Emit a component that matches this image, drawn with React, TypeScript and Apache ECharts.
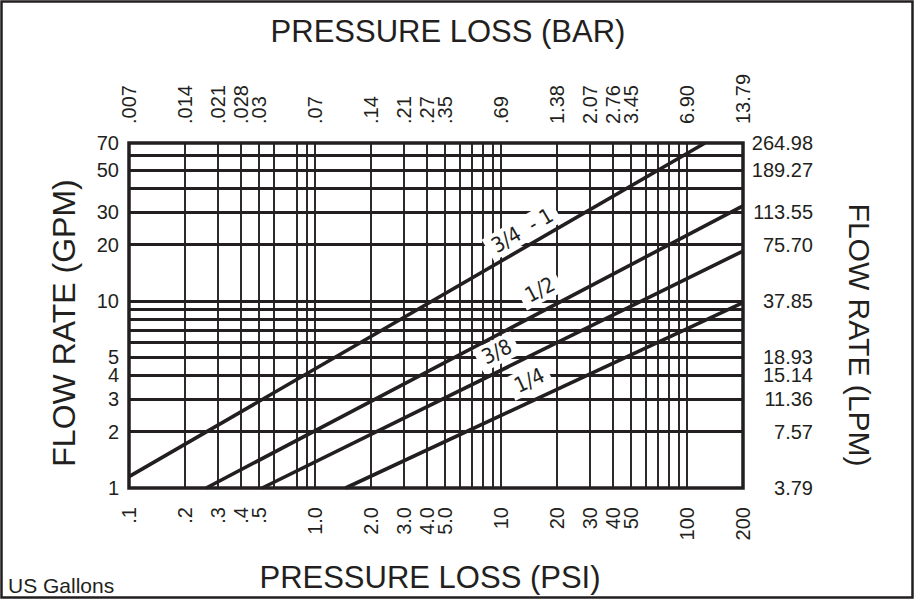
import React, { useEffect, useRef } from "react";
import * as echarts from "echarts";

// ---- data ----
const PSI_GRID = [0.2, 0.3, 0.4, 0.5, 0.6, 0.8, 0.9, 1, 2, 3, 4, 5, 6, 7, 8, 9, 10, 20, 30, 40, 50, 60, 70, 80, 90, 100];
const GPM_GRID = [2, 3, 4, 5, 6, 7, 8, 9, 10, 20, 30, 40, 50, 60];

const PSI_TICKS = [0.1, 0.2, 0.3, 0.4, 0.5, 1, 2, 3, 4, 5, 10, 20, 30, 40, 50, 100, 200];
const PSI_LABELS = [".1", ".2", ".3", ".4", ".5", "1.0", "2.0", "3.0", "4.0", "5.0", "10", "20", "30", "40", "50", "100", "200"];
const BAR_LABELS = [".007", ".014", ".021", ".028", ".03", ".07", ".14", ".21", ".27", ".35", ".69", "1.38", "2.07", "2.76", "3.45", "6.90", "13.79"];

const GPM_TICKS = [1, 2, 3, 4, 5, 10, 20, 30, 50, 70];
const GPM_LABELS = ["1", "2", "3", "4", "5", "10", "20", "30", "50", "70"];
const LPM_LABELS = ["3.79", "7.57", "11.36", "15.14", "18.93", "37.85", "75.70", "113.55", "189.27", "264.98"];

const SIZES = ["3/4  - 1", "1/2", "3/8", "1/4"];
const CURVE_34_1 = [[0.1, 1.15], [125, 70]];
const CURVE_12 = [[0.26, 1], [200, 32.3]];
const CURVE_38 = [[0.52, 1], [200, 18.5]];
const CURVE_14 = [[1.46, 1], [200, 9.8]];
const LABEL_AT = [[13.0, 23.8], [16.2, 11.5], [9.5, 5.35], [14.2, 3.76]];

const X_MIN = 0.1, X_MAX = 200, Y_MIN = 1, Y_MAX = 70;

// ---- layout / style ----
const INK = "#231f20";
const FONT = '"Liberation Sans", Arial, Helvetica, sans-serif';
const NARROW = '"Liberation Sans Narrow", "DejaVu Sans Condensed", "Roboto Condensed", sans-serif';
const G_LEFT = 129, G_TOP = 143, G_W = 614, G_H = 345;

const fmt = (ticks: number[], labels: string[]) => (v: number) => {
  const i = ticks.findIndex((t) => Math.abs(t - v) / t < 1e-6);
  return i >= 0 ? labels[i] : "";
};

const curves = [CURVE_34_1, CURVE_12, CURVE_38, CURVE_14];
const pxPerDecX = G_W / Math.log10(X_MAX / X_MIN);
const pxPerDecY = G_H / Math.log10(Y_MAX / Y_MIN);
const rotations = curves.map((c) => {
  const s = (Math.log10(c[1][1]) - Math.log10(c[0][1])) / (Math.log10(c[1][0]) - Math.log10(c[0][0]));
  return (Math.atan((s * pxPerDecY) / pxPerDecX) * 180) / Math.PI;
});

const axisLabelBase = { fontSize: 20, color: INK, fontFamily: FONT };
const hidden = { axisLine: { show: false }, axisTick: { show: false }, splitLine: { show: false }, minorTick: { show: false }, minorSplitLine: { show: false } };

const option: any = {
  animation: false,
  backgroundColor: "#fff",
  grid: {
    left: G_LEFT, top: G_TOP, width: G_W, height: G_H,
    show: true, borderColor: INK, borderWidth: 3.5, backgroundColor: "transparent",
    containLabel: false, outerBoundsMode: "none", z: 0,
  },
  xAxis: [
    {
      type: "log", logBase: 10, min: X_MIN, max: X_MAX, position: "bottom", ...hidden,
      axisLabel: { ...axisLabelBase, customValues: PSI_TICKS, formatter: fmt(PSI_TICKS, PSI_LABELS), rotate: 90, margin: 19 },
    },
    {
      type: "log", logBase: 10, min: X_MIN, max: X_MAX, position: "top", ...hidden,
      axisLabel: { ...axisLabelBase, customValues: PSI_TICKS, formatter: fmt(PSI_TICKS, BAR_LABELS), rotate: -90, margin: 19 },
    },
  ],
  yAxis: [
    {
      type: "log", logBase: 10, min: Y_MIN, max: Y_MAX, position: "left", ...hidden,
      axisLabel: { ...axisLabelBase, lineHeight: 15, customValues: GPM_TICKS, formatter: fmt(GPM_TICKS, GPM_LABELS), margin: 10 },
    },
    {
      type: "log", logBase: 10, min: Y_MIN, max: Y_MAX, position: "right", ...hidden,
      axisLabel: { ...axisLabelBase, lineHeight: 15, customValues: GPM_TICKS, formatter: fmt(GPM_TICKS, LPM_LABELS), align: "right", margin: 70 },
    },
  ],
  series: [
    {
      type: "line", name: "grid", data: [], xAxisIndex: 0, yAxisIndex: 0, z: 1, silent: true,
      markLine: {
        z: 1, silent: true, symbol: ["none", "none"], label: { show: false }, emphasis: { disabled: true },
        data: [
          ...PSI_GRID.map((v) => ({ xAxis: v, lineStyle: { color: INK, width: 1.9, type: "solid" } })),
          ...GPM_GRID.map((v) => ({ yAxis: v, lineStyle: { color: INK, width: 2.8, type: "solid" } })),
        ],
      },
    },
    {
      type: "scatter", name: "labels", xAxisIndex: 0, yAxisIndex: 0, z: 6, silent: true,
      symbol: "circle", symbolSize: 1, itemStyle: { color: "rgba(0,0,0,0)", opacity: 1 },
      data: LABEL_AT.map((p, i) => ({ value: p, name: SIZES[i], label: { rotate: rotations[i] } })),
      label: {
        show: true, position: "inside", formatter: "{b}", color: INK, opacity: 1, fontSize: 21, fontFamily: NARROW,
        backgroundColor: "#fff", padding: [3, 6, 1, 6],
      },
    },
    ...curves.map((c, i) => ({
      type: "line", name: SIZES[i], data: c, xAxisIndex: 0, yAxisIndex: 0, symbol: "none", silent: true, z: 9,
      lineStyle: { color: INK, width: 3.6 },
    })),
  ],
  graphic: [
    { type: "rect", silent: true, z: -10, shape: { x: 1.5, y: 1.5, width: 911, height: 596 }, style: { fill: "none", stroke: INK, lineWidth: 2.5 } },
    { type: "text", x: 448, y: 31, silent: true, style: { text: "PRESSURE LOSS (BAR)", fontSize: 31, fontFamily: FONT, fill: INK, align: "center", verticalAlign: "middle" } },
    { type: "text", x: 430, y: 577, silent: true, style: { text: "PRESSURE LOSS (PSI)", fontSize: 31, fontFamily: FONT, fill: INK, align: "center", verticalAlign: "middle" } },
    { type: "text", x: 64, y: 323, rotation: Math.PI / 2, silent: true, style: { text: "FLOW RATE (GPM)", fontSize: 32, fontFamily: FONT, fill: INK, align: "center", verticalAlign: "middle" } },
    { type: "text", x: 859, y: 335, rotation: -Math.PI / 2, silent: true, style: { text: "FLOW RATE (LPM)", fontSize: 30, fontFamily: FONT, fill: INK, align: "center", verticalAlign: "middle" } },
    { type: "text", x: 8, y: 585, silent: true, style: { text: "US Gallons", fontSize: 21, fontFamily: FONT, fill: INK, align: "left", verticalAlign: "middle" } },
  ],
};

export default function App() {
  const ref = useRef<HTMLDivElement>(null);
  useEffect(() => {
    const chart = echarts.init(ref.current!, null, { renderer: "svg" });
    chart.setOption(option);
    return () => chart.dispose();
  }, []);
  return <div ref={ref} style={{ position: "absolute", left: 0, top: 0, width: 916, height: 601, background: "#fff" }} />;
}
